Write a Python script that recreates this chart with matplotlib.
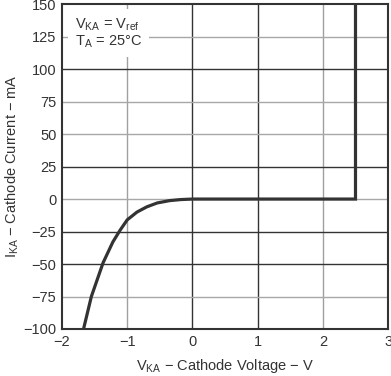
import matplotlib
matplotlib.use("Agg")
import matplotlib.pyplot as plt

plt.rcParams['font.family'] = ['Liberation Sans', 'DejaVu Sans']

# curve
v_ka = [-1.67, -1.55, -1.37, -1.22, -1.11, -1.0, -0.85, -0.7, -0.54, -0.35, -0.18, 0.0, 1.0, 2.5, 2.5]
i_ka = [-100, -75, -49, -33, -24, -16, -10, -6, -3, -1.2, -0.4, 0, 0, 0, 150]

xticks = [-2, -1, 0, 1, 2, 3]
yticks = [-100, -75, -50, -25, 0, 25, 50, 75, 100, 125, 150]
ytick_labels = ['\u2212100', '\u221275', '\u221250', '\u221225', '0', '25', '50', '75', '100', '125', '150']
xtick_labels = ['\u22122', '\u22121', '0', '1', '2', '3']

# grid shades as they look in the scan
xgrid_gray = [-1, 2]
ygrid_gray = [0, 50, 75, 125, -75]

fig = plt.figure(figsize=(3.91, 3.76), dpi=100)
ax = fig.add_axes([0.1586, 0.125, 0.834, 0.864])

for x in xticks[1:-1]:
    c = '#a0a0a0' if x in xgrid_gray else '#333333'
    ax.axvline(x, color=c, lw=1.0, zorder=1)
for y in yticks[1:-1]:
    c = '#a8a8a8' if y in ygrid_gray else '#333333'
    ax.axhline(y, color=c, lw=1.0, zorder=1)

ax.plot(v_ka, i_ka, color='#333333', lw=2.3, zorder=3, solid_joinstyle='miter')

ax.set_xlim(-2, 3)
ax.set_ylim(-100, 150)
ax.set_xticks(xticks)
ax.set_xticklabels(xtick_labels)
ax.set_yticks(yticks)
ax.set_yticklabels(ytick_labels)
ax.tick_params(length=0, labelsize=10.5, colors='#333333', pad=4)
for s in ax.spines.values():
    s.set_color('#333333')
    s.set_linewidth(1.5)

ax.set_xlabel('V$_{\\mathregular{KA}}$ \u2212 Cathode Voltage \u2212 V', fontsize=10.5, color='#333333', labelpad=6)
ax.set_ylabel('I$_{\\mathregular{KA}}$ \u2212 Cathode Current \u2212 mA', fontsize=10.5, color='#333333', labelpad=2)

ax.text(-1.80, 141, 'V$_{\\mathregular{KA}}$ = V$_{\\mathregular{ref}}$\nT$_{\\mathregular{A}}$ = 25\u00b0C',
        fontsize=10.5, color='#333333', va='top', ha='left', linespacing=1.1,
        bbox=dict(facecolor='white', edgecolor='none', pad=5), zorder=4)

fig.savefig('out.png', dpi=100)
